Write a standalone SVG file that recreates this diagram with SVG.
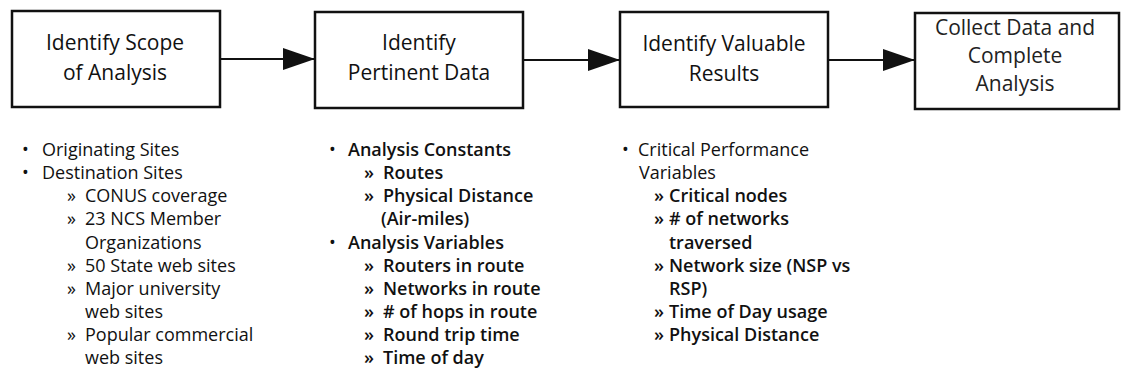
<svg xmlns="http://www.w3.org/2000/svg" width="1122" height="376" viewBox="0 0 1122 376">
  <style>
    .box { fill: #ffffff; stroke: #111111; stroke-width: 2.5; }
    .title { font-family: "Open Sans", "Liberation Sans", sans-serif; font-size: 21px; fill: #111111; text-anchor: middle; }
    .light { fill: #222222; }
    .edge { stroke: #111111; stroke-width: 2.2; fill: none; }
    .list { font-family: "Open Sans", "Liberation Sans", sans-serif; font-size: 18px; fill: #111111; }
    .sub { font-weight: 600; }
    .heavy { font-weight: 600; }
  </style>
  <defs>
    <marker id="arrow" viewBox="0 0 32 22" refX="32" refY="11" markerWidth="32" markerHeight="22" markerUnits="userSpaceOnUse" orient="auto">
      <path d="M0,0 L32,11 L0,22 Z" fill="#111111"/>
    </marker>
  </defs>

  <rect width="1122" height="376" fill="#ffffff"/>

  <!-- process steps -->
  <g id="step-scope">
    <rect class="box" x="12" y="11" width="208" height="96"/>
    <text class="title" x="115" y="50">Identify Scope</text>
    <text class="title" x="115" y="80">of Analysis</text>
  </g>

  <g id="step-data">
    <rect class="box" x="315" y="12" width="208" height="96"/>
    <text class="title" x="419" y="50">Identify</text>
    <text class="title" x="419" y="80">Pertinent Data</text>
  </g>

  <g id="step-results">
    <rect class="box" x="620" y="12" width="208" height="95"/>
    <text class="title" x="724" y="51">Identify Valuable</text>
    <text class="title" x="724" y="81">Results</text>
  </g>

  <g id="step-collect">
    <rect class="box" x="915" y="13" width="204" height="96"/>
    <text class="title light" x="1015" y="35">Collect Data and</text>
    <text class="title light" x="1015" y="63">Complete</text>
    <text class="title light" x="1015" y="91">Analysis</text>
  </g>

  <!-- flow between steps -->
  <g id="connectors">
    <line class="edge" x1="220" y1="59" x2="315" y2="59" marker-end="url(#arrow)"/>
    <line class="edge" x1="523" y1="60" x2="620" y2="60" marker-end="url(#arrow)"/>
    <line class="edge" x1="828" y1="60" x2="915" y2="60" marker-end="url(#arrow)"/>
  </g>

  <!-- detail lists under each step -->
  <g id="list-scope" class="list">
    <text x="22" y="156">•</text><text x="42" y="156">Originating Sites</text>
    <text x="22" y="179">•</text><text x="42" y="179">Destination Sites</text>
    <text x="67" y="202">»</text><text x="85" y="202">CONUS coverage</text>
    <text x="67" y="225">»</text><text x="85" y="225">23 NCS Member</text>
    <text x="85" y="249">Organizations</text>
    <text x="67" y="272">»</text><text x="85" y="272">50 State web sites</text>
    <text x="67" y="295">»</text><text x="85" y="295">Major university</text>
    <text x="85" y="318">web sites</text>
    <text x="67" y="341">»</text><text x="85" y="341">Popular commercial</text>
    <text x="85" y="364">web sites</text>
  </g>

  <g id="list-data" class="list">
    <text x="329" y="156">•</text><text class="heavy" x="348" y="156">Analysis Constants</text>
    <text class="sub" x="364" y="179">»</text><text class="sub" x="383" y="179">Routes</text>
    <text class="sub" x="364" y="202">»</text><text class="sub" x="383" y="202">Physical Distance</text>
    <text class="sub" x="381" y="225">(Air-miles)</text>
    <text x="329" y="249">•</text><text class="heavy" x="348" y="249">Analysis Variables</text>
    <text class="sub" x="364" y="272">»</text><text class="sub" x="383" y="272">Routers in route</text>
    <text class="sub" x="364" y="295">»</text><text class="sub" x="383" y="295">Networks in route</text>
    <text class="sub" x="364" y="318">»</text><text class="sub" x="383" y="318"># of hops in route</text>
    <text class="sub" x="364" y="341">»</text><text class="sub" x="383" y="341">Round trip time</text>
    <text class="sub" x="364" y="364">»</text><text class="sub" x="383" y="364">Time of day</text>
  </g>

  <g id="list-results" class="list">
    <text x="622" y="156">•</text><text x="638" y="156">Critical Performance</text>
    <text x="639" y="179">Variables</text>
    <text class="sub" x="654" y="202">»</text><text class="sub" x="669" y="202">Critical nodes</text>
    <text class="sub" x="654" y="225">»</text><text class="sub" x="669" y="225"># of networks</text>
    <text class="sub" x="669" y="249">traversed</text>
    <text class="sub" x="654" y="272">»</text><text class="sub" x="669" y="272">Network size (NSP vs</text>
    <text class="sub" x="669" y="295">RSP)</text>
    <text class="sub" x="654" y="318">»</text><text class="sub" x="669" y="318">Time of Day usage</text>
    <text class="sub" x="654" y="341">»</text><text class="sub" x="669" y="341">Physical Distance</text>
  </g>
</svg>
